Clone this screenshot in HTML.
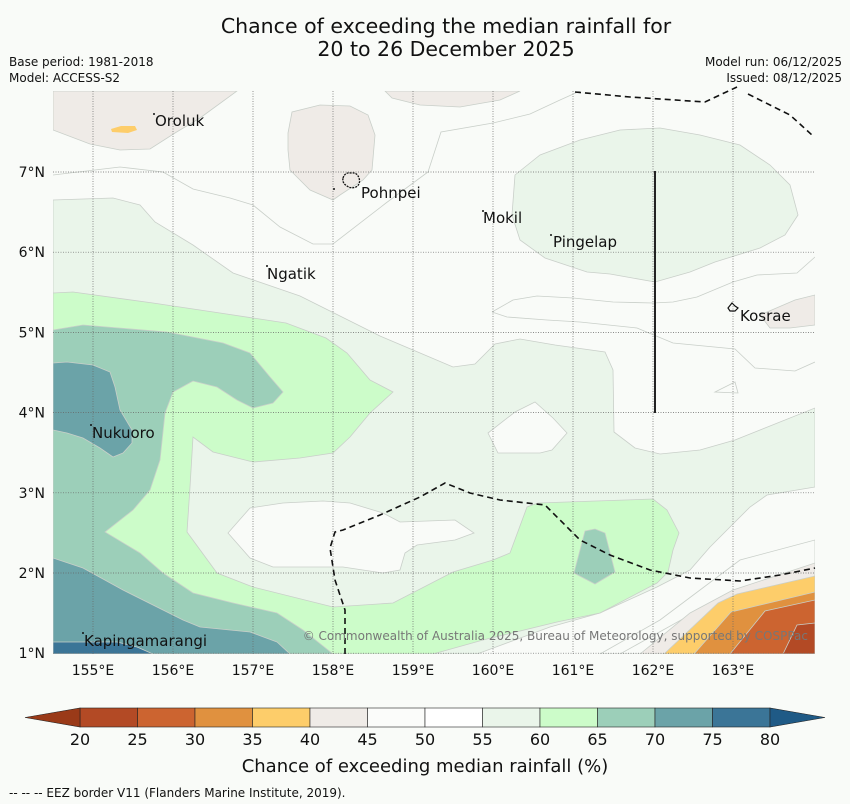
<!DOCTYPE html>
<html><head><meta charset="utf-8">
<style>
body{margin:0;background:#f9fbf8;font-family:"Liberation Sans","DejaVu Sans",sans-serif;}
svg{display:block}
text{font-family:"DejaVu Sans","Liberation Sans",sans-serif;}
</style></head>
<body>
<svg id="root" width="850" height="804" viewBox="0 0 850 804">
<rect width="850" height="804" fill="#f9fbf8"/>
<text x="446" y="33" font-size="20.5" text-anchor="middle" fill="#111">Chance of exceeding the median rainfall for</text>
<text x="446" y="56" font-size="20.5" text-anchor="middle" fill="#111">20 to 26 December 2025</text>
<text x="9" y="66" font-size="12" fill="#111">Base period: 1981-2018</text>
<text x="9" y="82" font-size="12" fill="#111">Model: ACCESS-S2</text>
<text x="842" y="66" font-size="12" fill="#111" text-anchor="end">Model run: 06/12/2025</text>
<text x="842" y="82" font-size="12" fill="#111" text-anchor="end">Issued: 08/12/2025</text>

<defs><clipPath id="mapclip"><rect x="53" y="91" width="762" height="563"/></clipPath></defs>
<g clip-path="url(#mapclip)" stroke="#c9cfc9" stroke-width="0.8">
<rect x="53" y="91" width="762" height="563" fill="#f9fbf8" stroke="none"/>
<polygon fill="#eaf5ea" points="53,200 113,198 140,205 155,222 193,245 233,273 300,296 340,316 380,336 413,350 453,367 475,364 495,344 520,339 555,345 605,352 613,370 614,432 635,448 660,454 700,450 735,440 760,430 815,408 815,487 767,495 750,507 710,547 690,570 657,587 600,613 550,627 477,654 53,654"/>
<polygon fill="#eaf5ea" points="515,175 540,155 580,140 620,130 660,128 700,135 740,145 770,165 790,185 798,215 785,235 760,248 715,262 690,272 655,282 610,274 587,272 545,258 520,240 512,215"/>
<polygon fill="#f9fbf8" points="488,433 515,412 535,402 553,418 567,433 552,450 540,453 498,453"/>
<polygon fill="#f9fbf8" points="228,533 250,508 283,503 323,501 350,503 383,513 400,522 455,520 474,533 455,540 417,545 405,553 400,570 383,573 343,567 273,567 250,558"/>
<polygon fill="#ccfcc9" points="53,293 73,292 153,303 220,313 286,323 326,338 347,353 370,380 393,392 370,413 350,437 333,453 300,458 253,462 213,452 193,437 190,487 187,532 217,573 253,587 333,607 393,603 453,572 493,560 510,553 527,507 538,503 653,499 667,510 679,533 673,550 668,572 657,583 600,613 557,622 483,640 433,654 53,654"/>
<polygon fill="#9ccfb9" points="53,330 83,325 167,332 223,343 250,353 270,377 283,392 273,403 253,408 237,400 217,387 193,381 173,392 165,413 160,460 150,490 133,510 105,532 140,553 163,573 193,593 233,603 277,613 303,630 333,654 53,654"/>
<polygon fill="#9ccfb9" points="585,531 595,529 605,533 615,572 595,584 574,573"/>
<polygon fill="#6ba3a8" points="53,363 67,362 93,365 110,372 115,387 120,410 132,430 132,443 123,453 113,457 100,448 83,438 67,433 53,430"/>
<polygon fill="#6ba3a8" points="53,558 83,568 123,590 183,620 200,627 250,632 277,642 290,654 53,654"/>
<polygon fill="#3b7597" points="53,642 117,642 137,647 153,654 53,654"/>
<polygon fill="#efebe7" points="53,91 237,91 200,118 175,133 150,149 120,150 90,144 53,130"/>
<polygon fill="#fdcd6a" stroke="none" points="111,129 121,126 135,126 137,130 128,133 112,132"/>
<polygon fill="#efebe7" points="288,133 292,112 320,105 350,106 368,115 375,135 372,170 363,180 340,195 333,200 310,190 290,170 288,150"/>
<polygon fill="#efebe7" points="385,91 520,91 500,100 460,107 420,105 392,98"/>
<polygon fill="#efebe7" points="760,315 795,300 815,295 815,325 790,328 770,328"/>
<polyline fill="none" points="53,175 120,167 163,172 193,189 230,198 253,205 280,227 313,244 333,244 386,203 428,172 441,132 493,123 530,114 560,100 580,91"/>
<polyline fill="none" points="492,312 513,300 537,296 573,298 613,302 653,303 673,302 697,297 733,282 757,275 797,273 815,257"/>
<polyline fill="none" points="492,312 507,317 547,320 580,322 637,328 673,343 735,349 755,368 795,371 815,362"/>
<polygon fill="none" points="715,392 735,382 738,393"/>
<polygon fill="#f9fbf8" points="600,654 660,620 700,590 740,560 815,540 815,654"/>
<polyline fill="none" points="620,654 690,615 733,592 815,572"/>
<polygon fill="#efebe7" points="640,654 690,613 733,590 815,563 815,654"/>
<polygon fill="#fdcd6a" points="664,654 718,603 737,594 815,576 815,654"/>
<polygon fill="#e0913f" points="694,654 731,612 815,592 815,654"/>
<polygon fill="#cc6430" points="730,654 765,611 815,600 815,654"/>
<polygon fill="#b34a25" points="783,654 797,625 815,623 815,654"/>
</g>

<g id="grid"></g>

<g fill="none" stroke="#111" stroke-width="1.6" stroke-dasharray="6,4">
<polyline points="575,92 630,97 705,102 722,94 737,87"/>
<polyline points="748,94 790,115 812,135"/>
<polyline points="345,654 345,610 335,580 330,548 335,532 343,530 380,515 420,497 445,483 470,493 500,500 545,505 580,540 610,555 650,570 690,578 740,581 780,575 815,568"/>
</g>
<line x1="655" y1="171" x2="655" y2="413" stroke="#222" stroke-width="2"/>

<path d="M343,178 q2,-6 8,-5 q6,-1 8,5 q2,6 -3,9 q-5,2 -9,-1 q-5,-3 -4,-8z" fill="none" stroke="#111" stroke-width="1.3" stroke-dasharray="2,1"/>
<path d="M728,308 l4,-5 l3,3 l3,2 l-3,3 l-5,0z" fill="none" stroke="#111" stroke-width="1.2"/>
<g fill="#111">
<circle cx="154" cy="114" r="1"/><circle cx="483" cy="211" r="1"/><circle cx="551" cy="235" r="1"/><circle cx="267" cy="266" r="1"/><circle cx="91" cy="425" r="1"/><circle cx="83" cy="633" r="1"/><circle cx="334" cy="189" r="1"/>
</g>

<g font-size="15" fill="#111">
<text x="155" y="126">Oroluk</text>
<text x="361" y="198">Pohnpei</text>
<text x="483" y="223">Mokil</text>
<text x="553" y="247">Pingelap</text>
<text x="267" y="279">Ngatik</text>
<text x="740" y="321">Kosrae</text>
<text x="92" y="438">Nukuoro</text>
<text x="84" y="646">Kapingamarangi</text>
</g>
<text x="808" y="640" font-size="12" fill="#777" text-anchor="end">© Commonwealth of Australia 2025, Bureau of Meteorology, supported by COSPPac</text>

<g id="axes"></g>
<g id="colorbar"></g>
<text x="425" y="772" font-size="18" text-anchor="middle" fill="#111">Chance of exceeding median rainfall (%)</text>
<text x="9" y="797" font-size="12" fill="#111">--  --  -- EEZ border V11 (Flanders Marine Institute, 2019).</text>
</svg>
<script>
var lonTicks = [155,156,157,158,159,160,161,162,163];
var latTicks = [1,2,3,4,5,6,7];
var cbLevels = [20,25,30,35,40,45,50,55,60,65,70,75,80];
var cbColors = ["#b34a25","#cc6430","#e0913f","#fdcd6a","#efebe7","#fbfcfa","#ffffff","#eaf5ea","#ccfcc9","#9ccfb9","#6ba3a8","#3b7597"];
var NS='http://www.w3.org/2000/svg';
function X(lon){return 93+(lon-155)*80;}
function Y(lat){return 172+(7-lat)*80.2;}
function cbX(v){return 80+(v-20)/(60)*690;}
function mk(t,a,p){var e=document.createElementNS(NS,t);for(var k in a)e.setAttribute(k,a[k]);p.appendChild(e);return e;}
var grid=document.getElementById('grid'),axes=document.getElementById('axes'),cb=document.getElementById('colorbar');
lonTicks.forEach(function(l){
  var g=mk('line',{x1:X(l),x2:X(l),y1:91,y2:654,stroke:'#666','stroke-width':0.7,'stroke-dasharray':'1,1.5'},grid);
  
  
  var t=mk('text',{x:X(l),y:675,'font-size':14,'text-anchor':'middle',fill:'#111'},axes);t.textContent=l+'°E';
  
  
});
latTicks.forEach(function(l){
  var g=mk('line',{x1:53,x2:815,y1:Y(l),y2:Y(l),stroke:'#666','stroke-width':0.7,'stroke-dasharray':'1,1.5'},grid);
  
  
  var t=mk('text',{x:45,y:Y(l)+5,'font-size':14,'text-anchor':'end',fill:'#111'},axes);t.textContent=l+'°N';
  
  
});
cbColors.forEach(function(c,i){
  var r=mk('rect',{x:cbX(cbLevels[i]),y:708,width:cbX(cbLevels[i+1])-cbX(cbLevels[i]),height:19,fill:c,stroke:'#222','stroke-width':0.6},cb);
  
  
});
var lt=mk('polygon',{points:'25,717.5 '+cbX(20)+',708 '+cbX(20)+',727',fill:'#9a3a18',stroke:'#222','stroke-width':0.6},cb);


var rt=mk('polygon',{points:'825,717.5 '+cbX(80)+',708 '+cbX(80)+',727',fill:'#1f5a86',stroke:'#222','stroke-width':0.6},cb);


cbLevels.forEach(function(v){
  var t=mk('text',{x:cbX(v),y:745,'font-size':16,'text-anchor':'middle',fill:'#111'},cb);t.textContent=v;
  
  
});
</script>
</body></html>
